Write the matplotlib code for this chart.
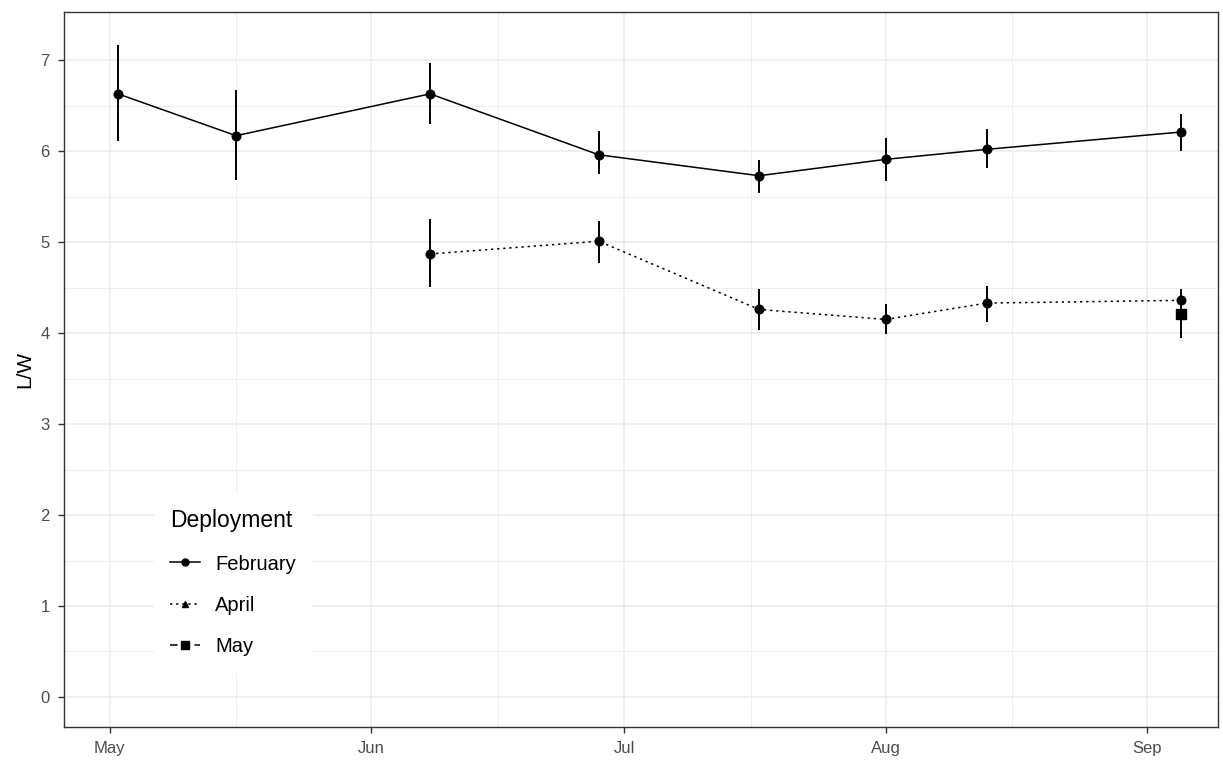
import matplotlib
matplotlib.use("Agg")
import matplotlib.pyplot as plt
import matplotlib.dates as mdates
import numpy as np
from datetime import datetime, timedelta

plt.rcParams['font.family'] = ['Liberation Sans', 'DejaVu Sans']

feb_dates = ["2021-05-02", "2021-05-16", "2021-06-08", "2021-06-28", "2021-07-17", "2021-08-01", "2021-08-13", "2021-09-05"]
feb_vals = [6.63, 6.17, 6.63, 5.96, 5.73, 5.91, 6.02, 6.21]
feb_lo = [6.11, 5.68, 6.30, 5.75, 5.54, 5.67, 5.81, 6.00]
feb_hi = [7.17, 6.67, 6.97, 6.22, 5.90, 6.14, 6.24, 6.41]

apr_dates = ["2021-06-08", "2021-06-28", "2021-07-17", "2021-08-01", "2021-08-13", "2021-09-05"]
apr_vals = [4.87, 5.01, 4.26, 4.15, 4.33, 4.36]
apr_lo = [4.51, 4.77, 4.03, 3.99, 4.12, 4.22]
apr_hi = [5.25, 5.23, 4.48, 4.32, 4.52, 4.49]

may_dates = ["2021-09-05"]
may_vals = [4.21]
may_lo = [3.95]
may_hi = [4.45]

series = [
    ("February", feb_dates, feb_vals, feb_lo, feb_hi, '-', 'o', 5),
    ("April", apr_dates, apr_vals, apr_lo, apr_hi, (0, (1.5, 2.5)), '^', 5),
    ("May", may_dates, may_vals, may_lo, may_hi, (0, (5, 3)), 's', 5.5),
]

fig = plt.figure(figsize=(12.23, 7.63), dpi=100)
ax = fig.add_axes([0.0523, 0.0472, 0.9436, 0.9371])

handles = []
for name, d, v, lo, hi, ls, mk, lms in series:
    x = [datetime.strptime(s, "%Y-%m-%d") for s in d]
    v = np.array(v)
    yerr = np.array([v - np.array(lo), np.array(hi) - v])
    ax.errorbar(x, v, yerr=yerr, fmt='none', ecolor='black', elinewidth=1.4, capsize=0, zorder=3)
    ax.plot(x, v, color='black', linestyle=ls, linewidth=1.1, zorder=3)
    if name == "May":
        ax.plot(x, v, linestyle='none', marker='s', color='black', markersize=6.5, zorder=4)
    else:
        ax.plot(x, v, linestyle='none', marker='o', color='black', markersize=6.2, zorder=4)
    h, = ax.plot([], [], color='black', linestyle=ls, linewidth=1.1, marker=mk, markersize=lms)
    handles.append(h)

start = datetime(2021, 5, 1)
ax.set_xlim(start - timedelta(days=5.4), start + timedelta(days=131.4))
ax.set_ylim(-0.33, 7.53)

ax.xaxis.set_major_locator(mdates.MonthLocator())
ax.xaxis.set_major_formatter(mdates.DateFormatter('%b'))
ax.xaxis.set_minor_locator(mdates.MonthLocator(bymonthday=16))
ax.set_yticks(range(0, 8))
ax.set_yticks(np.arange(0.5, 7.5, 1.0), minor=True)

ax.grid(which='major', color='#ebebeb', linewidth=1.1)
ax.grid(which='minor', color='#ebebeb', linewidth=0.6)
ax.set_axisbelow(True)

for sp in ax.spines.values():
    sp.set_color('#333333')
    sp.set_linewidth(1.0)

ax.tick_params(axis='both', which='major', colors='#4d4d4d', labelsize=12, length=4.3, width=1.0, pad=6)
ax.tick_params(axis='both', which='major', color='#333333')
ax.tick_params(which='minor', length=0)
for lab in ax.get_xticklabels() + ax.get_yticklabels():
    lab.set_color('#4d4d4d')

ax.set_ylabel("L/W", fontsize=15, color='black', labelpad=4)

leg = ax.legend(handles, ["February", "April", "May"], title="Deployment",
                loc='lower left', bbox_to_anchor=(0.078, 0.077), frameon=True,
                fontsize=14.5, title_fontsize=16.5, handlelength=1.5,
                labelspacing=1.1, borderpad=0.8, handletextpad=0.75,
                borderaxespad=0.0)
leg.get_frame().set_edgecolor('white')
leg.get_frame().set_facecolor('white')
leg.get_frame().set_alpha(1.0)
leg.get_frame().set_boxstyle('square', pad=0)
leg._legend_box.align = "left"

fig.savefig("out.png", dpi=100)
